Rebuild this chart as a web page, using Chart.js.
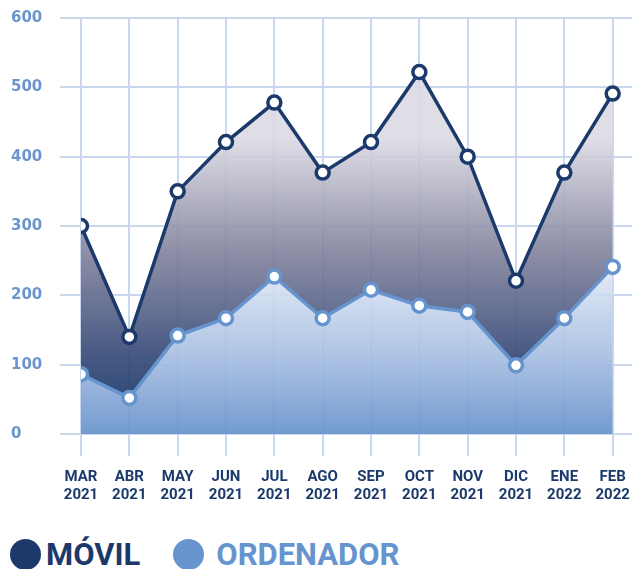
<!DOCTYPE html>
<html>
<head>
<meta charset="utf-8">
<script src="https://cdn.jsdelivr.net/npm/chart.js@4"></script>
<style>
    html, body { margin: 0; padding: 0; background: #fff; }
    #wrap { position: relative; width: 632px; height: 569px; overflow: hidden; }
    #chartBox { position: absolute; left: 0; top: 0; width: 632px; height: 520px; }
    #legend { position: absolute; left: 10px; top: 539px; display: flex; align-items: center;
              font: bold 31px Roboto, sans-serif; line-height: 31px; }
    .item { display: flex; align-items: center; margin-right: 33px; }
    .dot { width: 31px; height: 31px; border-radius: 50%; margin-right: 5px; }
    .item:nth-child(2) .dot { margin-right: 12px; }
</style>
</head>
<body>
<div id="wrap">
    <div id="chartBox"><canvas id="devicesChart"></canvas></div>
    <div id="legend"></div>
</div>
<script>
//chart data
const months = [
    ['MAR', '2021'], ['ABR', '2021'], ['MAY', '2021'], ['JUN', '2021'],
    ['JUL', '2021'], ['AGO', '2021'], ['SEP', '2021'], ['OCT', '2021'],
    ['NOV', '2021'], ['DIC', '2021'], ['ENE', '2022'], ['FEB', '2022']
];
const movil = [300, 140, 350, 421, 478, 377, 421, 522, 400, 221, 377, 491];
const ordenador = [86, 52, 142, 167, 227, 167, 208, 185, 176, 99, 167, 241];
const yTicks = [0, 100, 200, 300, 400, 500, 600];

const seriesNames = ['MÓVIL', 'ORDENADOR'];
const navy = '#1b3a6b';
const sky = '#6594cf';

//gradient helpers, built from the chart area once it is known
function movilFill(context) {
    const area = context.chart.chartArea;
    if (!area) return 'rgba(90,96,136,0.9)';
    const g = context.chart.ctx.createLinearGradient(0, area.top, 0, area.bottom);
    g.addColorStop(0, 'rgba(221,220,229,0.9)');
    g.addColorStop(0.29, 'rgba(219,218,228,0.9)');
    g.addColorStop(0.55, 'rgba(133,133,159,0.9)');
    g.addColorStop(0.8, 'rgba(58,77,122,0.92)');
    g.addColorStop(0.95, 'rgba(30,60,110,0.95)');
    g.addColorStop(1, 'rgba(28,58,108,0.95)');
    return g;
}

function ordenadorFill(context) {
    const area = context.chart.chartArea;
    if (!area) return 'rgba(160,185,225,0.9)';
    const g = context.chart.ctx.createLinearGradient(0, area.top, 0, area.bottom);
    g.addColorStop(0, 'rgba(244,247,252,0.9)');
    g.addColorStop(0.55, 'rgba(238,242,250,0.9)');
    g.addColorStop(0.82, 'rgba(163,187,224,0.9)');
    g.addColorStop(1, 'rgba(102,146,203,0.92)');
    return g;
}

function toPoints(values) {
    return values.map((v, i) => ({ x: i, y: v }));
}

const ctx = document.getElementById('devicesChart').getContext('2d');

new Chart(ctx, {
    type: 'line',
    data: {
        datasets: [{
            label: seriesNames[0],
            data: toPoints(movil),
            order: 1,
            borderColor: navy,
            borderWidth: 3.5,
            backgroundColor: movilFill,
            fill: 1,
            tension: 0,
            pointRadius: 6.5,
            pointBorderWidth: 3.5,
            pointBackgroundColor: '#fff',
            pointBorderColor: navy
        }, {
            label: seriesNames[1],
            data: toPoints(ordenador),
            order: 0,
            borderColor: sky,
            borderWidth: 3.5,
            backgroundColor: ordenadorFill,
            fill: 'origin',
            tension: 0,
            pointRadius: 6.5,
            pointBorderWidth: 3.5,
            pointBackgroundColor: '#fff',
            pointBorderColor: sky
        }]
    },
    options: {
        responsive: true,
        maintainAspectRatio: false,
        animation: false,
        layout: {
            autoPadding: false,
            padding: { left: 11, top: 18, right: 0, bottom: 4 }
        },
        scales: {
            x: {
                type: 'linear',
                min: 0,
                max: 11.4,
                afterBuildTicks: scale => {
                    scale.ticks = months.map((m, i) => ({ value: i }));
                },
                afterFit: scale => {
                    scale.paddingLeft = 0;
                    scale.paddingRight = 0;
                },
                ticks: {
                    autoSkip: false,
                    maxRotation: 0,
                    padding: 12,
                    color: navy,
                    font: { family: 'Roboto', size: 15, weight: 'bold', lineHeight: 1.2 },
                    callback: value => months[value]
                },
                grid: {
                    color: '#cad8ee',
                    lineWidth: 2,
                    tickLength: 22
                },
                border: { display: false }
            },
            y: {
                min: 0,
                max: 600,
                afterBuildTicks: scale => {
                    scale.ticks = yTicks.map(v => ({ value: v }));
                },
                afterFit: scale => {
                    scale.width = 70;
                },
                ticks: {
                    crossAlign: 'far',
                    color: '#6b96cd',
                    font: { family: 'DejaVu Sans', size: 15, weight: 'bold' }
                },
                grid: {
                    color: '#cad8ee',
                    lineWidth: 2,
                    tickLength: 21
                },
                border: { display: false }
            }
        },
        plugins: {
            legend: { display: false },
            tooltip: { enabled: false }
        }
    }
});

//html legend with big dots
const legendColors = [navy, sky];
document.getElementById('legend').innerHTML = seriesNames.map((name, i) =>
    `<div class="item"><span class="dot" style="background:${legendColors[i]}"></span>` +
    `<span style="color:${legendColors[i]}">${name}</span></div>`
).join('');
</script>
</body>
</html>
